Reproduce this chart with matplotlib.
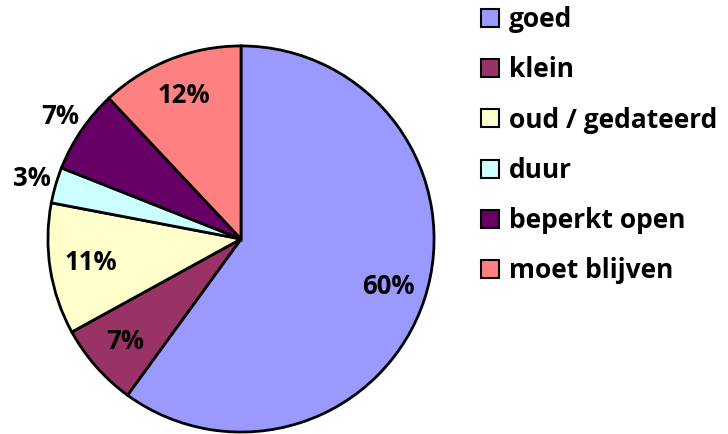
import matplotlib
matplotlib.use("Agg")
import matplotlib.pyplot as plt
import numpy as np

labels = ["goed", "klein", "oud / gedateerd", "duur", "beperkt open", "moet blijven"]
values = [60, 7, 11, 3, 7, 12]
colors = ["#9999FF", "#993366", "#FFFFCC", "#CCFFFF", "#660066", "#FF8080"]
label_dist = [0.80, 0.80, 0.79, 1.13, 1.13, 0.80]

plt.rcParams['font.family'] = ['Open Sans', 'DejaVu Sans']

fig = plt.figure(figsize=(7.28, 4.34), dpi=100)
ax = fig.add_axes([46 / 728, 0, 390 / 728, 390 / 434])

wedges, _ = ax.pie(values, colors=colors, startangle=90, counterclock=False,
                   radius=1.0, wedgeprops=dict(edgecolor="black", linewidth=2))

# percentage labels, some inside, small ones outside
for w, v, d in zip(wedges, values, label_dist):
    ang = np.deg2rad((w.theta1 + w.theta2) / 2)
    ax.text(d * np.cos(ang), d * np.sin(ang), f"{v}%", ha="center", va="center",
            fontsize=18.5, fontweight="bold", color="black")

ax.set_xlim(-1.01, 1.01)
ax.set_ylim(-1.01, 1.01)
ax.set_aspect("equal")
ax.axis("off")

leg = fig.legend(wedges, labels, loc="upper left", bbox_to_anchor=(470 / 728, 1.01),
                 frameon=False, handlelength=0.68, handleheight=0.68, handletextpad=0.38,
                 labelspacing=0.88, borderaxespad=0,
                 prop=dict(size=19, weight="bold"))
for h in leg.legend_handles:
    h.set_linewidth(1.5)

fig.savefig("out.png", dpi=100)
